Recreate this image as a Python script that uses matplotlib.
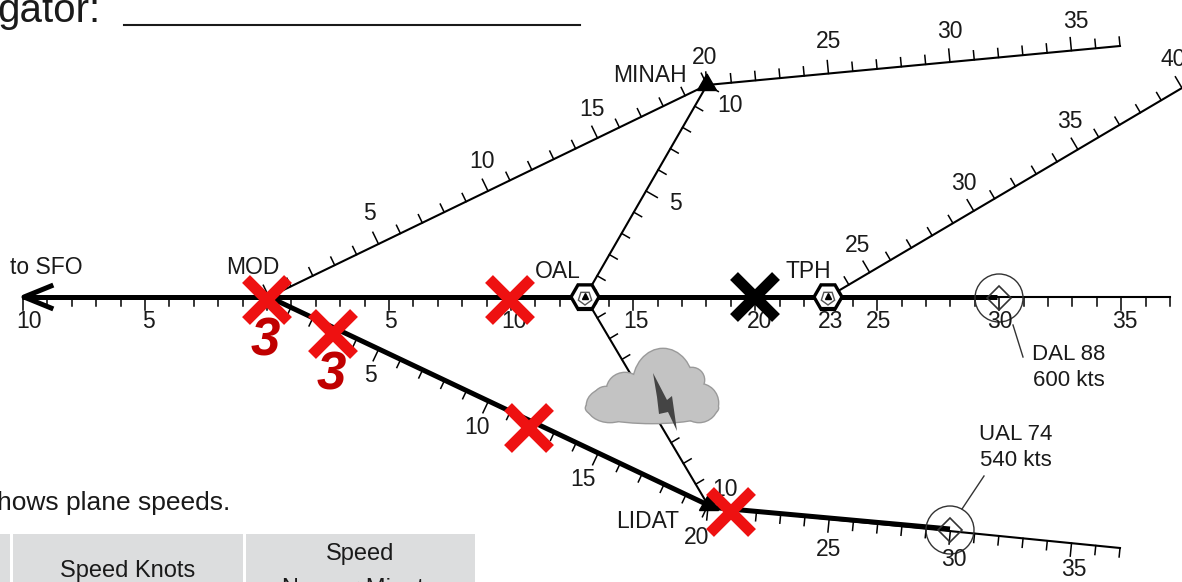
import matplotlib
matplotlib.use("Agg")
import matplotlib.pyplot as plt
from matplotlib.patches import Circle, Ellipse, Polygon, RegularPolygon, Rectangle
import numpy as np

plt.rcParams['font.family'] = ['Liberation Sans', 'DejaVu Sans']

# route geometry, in picture pixels: start, end, first mile, last mile, side of the ticks
main_route = [(23, 297), (1170, 297), -10, 37, 1]
minah_west = [(269, 297), (707, 85), 0, 20, -1]
minah_east = [(707, 85), (1120, 46), 20, 37, -1]
minah_oal = [(585, 297), (707, 85), 0, 10, 1]
oal_lidat = [(585, 297), (708, 505), 0, 10, -1]
mod_lidat = [(269, 297), (708, 505), 0, 20, 1]
lidat_east = [(708, 507), (1120, 548), 20, 37, 1]
tph_ne = [(828, 297), (1182, 88), 23, 40, -1]
routes = [main_route, minah_west, minah_east, minah_oal, oal_lidat, mod_lidat, lidat_east, tph_ne]

# thick flown legs
thick_legs = [[(22, 297), (997, 297)], [(269, 297), (708, 505)], [(708, 507), (950, 529)]]

distance_labels = ["10", "5", "5", "10", "15", "20", "23", "25", "30", "35",
                   "5", "10", "15", "20", "25", "30", "35", "5", "10", "10",
                   "5", "10", "15", "20", "25", "30", "35", "25", "30", "35", "40"]
label_x = [29, 148, 390, 514, 636, 760, 831, 879, 1000, 1125,
           369, 482, 592, 705, 829, 950, 1076, 675, 730, 725,
           370, 477, 583, 697, 829, 954, 1074, 858, 964, 1070, 1173]
label_y = [321, 321, 321, 321, 321, 321, 321, 321, 321, 321,
           213, 161, 110, 57, 42, 31, 21, 204, 105, 490,
           375, 427, 480, 537, 550, 560, 570, 246, 183, 121, 60]

fixes = ["to SFO", "MOD", "OAL", "TPH", "MINAH", "LIDAT"]
fix_x = [46, 253, 558, 808, 650, 648]
fix_y = [268, 268, 271, 271, 75, 521]

red_x = [267, 333, 510, 529, 731]
red_y = [300, 334, 300, 428, 512]
black_x = [755]
black_y = [297]
three_x = [265, 331]
three_y = [341, 375]

ink = "#1a1a1a"

fig = plt.figure(figsize=(11.82, 5.82), dpi=100)
ax = fig.add_axes([0, 0, 1, 1])
ax.set_xlim(0, 1182)
ax.set_ylim(582, 0)
ax.axis("off")


def draw_route(start, end, m0, m1, side):
    p0 = np.array(start, dtype=float)
    p1 = np.array(end, dtype=float)
    ax.plot([p0[0], p1[0]], [p0[1], p1[1]], color="black", lw=1.5, zorder=2)
    d = (p1 - p0) / np.hypot(*(p1 - p0))
    n = np.array([-d[1], d[0]]) * side
    if n[1] < 0 and side > 0:
        n = -n
    step = (p1 - p0) / (m1 - m0)
    for m in range(m0, m1 + 1):
        p = p0 + step * (m - m0)
        ln = 13 if m % 5 == 0 else 9
        ax.plot([p[0], p[0] + n[0] * ln], [p[1], p[1] + n[1] * ln],
                color="black", lw=1.1, zorder=2)


for r in routes:
    draw_route(*r)

for leg in thick_legs:
    xs, ys = zip(*leg)
    ax.plot(xs, ys, color="black", lw=3.6, solid_capstyle="butt", zorder=3)

# arrow head at the SFO end
ax.plot([51, 24, 51], [286, 297, 308], color="black", lw=3.6, zorder=3)

# cloud, edge first then the fill on top
lobes = [(663, 385, 30, 36), (625, 390, 18, 17), (610, 405, 23, 17), (652, 408, 66, 15),
         (699, 403, 19, 19), (692, 380, 12, 12), (606, 398, 12, 11)]
for cx, cy, w, h in lobes:
    ax.add_patch(Ellipse((cx, cy), 2 * w, 2 * h, fc="#c3c3c3", ec="#9a9a9a", lw=2, zorder=4))
for cx, cy, w, h in lobes:
    ax.add_patch(Ellipse((cx, cy), 2 * w, 2 * h, fc="#c3c3c3", ec="none", zorder=4.1))
bolt = [(653, 373), (667, 400), (672, 396), (677, 431), (668, 412), (659, 414), (657, 397)]
ax.add_patch(Polygon(bolt, closed=True, fc="#444444", ec="none", zorder=4.2))

# fixes on the main line
for cx in [585, 828]:
    ax.add_patch(RegularPolygon((cx, 297), 6, radius=14, orientation=np.pi / 2, fc="white", ec="black", lw=2.4, zorder=5))
    ax.add_patch(RegularPolygon((cx, 298), 5, radius=7, fc="white", ec="#555555", lw=1, zorder=5))
    ax.plot([cx - 8, cx + 8], [309, 309], color="black", lw=3, solid_capstyle="butt", zorder=5)
    ax.plot([cx], [296], marker="^", ms=4, color="black", zorder=6)
for cx, cy in [(707, 85), (709, 505)]:
    ax.add_patch(RegularPolygon((cx, cy), 3, radius=11, orientation=np.pi, fc="black", ec="black", zorder=5))

# aircraft
planes = [(999, 298, 24), (950, 530, 24)]
for cx, cy, rad in planes:
    ax.add_patch(Circle((cx, cy), rad, fc="none", ec="#333333", lw=1, zorder=5))
    ax.add_patch(RegularPolygon((cx, cy), 4, radius=12, fc="none", ec="#333333", lw=1.2, zorder=5))
ax.plot([1013, 1023], [325, 357], color="#333333", lw=1, zorder=5)
ax.plot([962, 984], [509, 476], color="#333333", lw=1, zorder=5)

for x, y, s in zip(label_x, label_y, distance_labels):
    ax.text(x, y, s, fontsize=16.5, ha="center", va="center", color=ink, zorder=6)
for x, y, s in zip(fix_x, fix_y, fixes):
    ax.text(x, y, s, fontsize=16.5, ha="center", va="center", color=ink, zorder=6)
for x, y, s in [(1069, 354, "DAL 88"), (1069, 380, "600 kts"), (1016, 434, "UAL 74"), (1016, 461, "540 kts")]:
    ax.text(x, y, s, fontsize=16, ha="center", va="center", color=ink, zorder=6)

for x, y in zip(red_x, red_y):
    ax.plot([x - 21, x + 21], [y - 21, y + 21], color="#ee1111", lw=8, solid_capstyle="butt", zorder=7)
    ax.plot([x - 21, x + 21], [y + 21, y - 21], color="#ee1111", lw=8, solid_capstyle="butt", zorder=7)
for x, y in zip(black_x, black_y):
    ax.plot([x - 21, x + 21], [y - 21, y + 21], color="black", lw=8, solid_capstyle="butt", zorder=7)
    ax.plot([x - 21, x + 21], [y + 21, y - 21], color="black", lw=8, solid_capstyle="butt", zorder=7)
for x, y in zip(three_x, three_y):
    ax.text(x, y, "3", fontsize=38, fontweight="bold", style="italic", color="#c00000",
            ha="center", va="center", zorder=7)

# page text around the chart
ax.text(-3, 22, "gator:", fontsize=29, color=ink, va="baseline")
ax.plot([124, 580], [25, 25], color=ink, lw=1.5)
ax.text(-3, 503, "hows plane speeds.", fontsize=19, color=ink, va="center")
for x0, x1 in [(0, 10), (13, 243), (246, 475)]:
    ax.add_patch(Rectangle((x0, 534), x1 - x0, 50, fc="#dcddde", ec="none"))
ax.text(128, 571, "Speed Knots", fontsize=17, color=ink, ha="center", va="center")
ax.text(360, 554, "Speed", fontsize=17, color=ink, ha="center", va="center")
ax.text(360, 595, "Nm per Minute", fontsize=17, color=ink, ha="center", va="baseline", clip_on=True)

fig.savefig("out.png", dpi=100)
